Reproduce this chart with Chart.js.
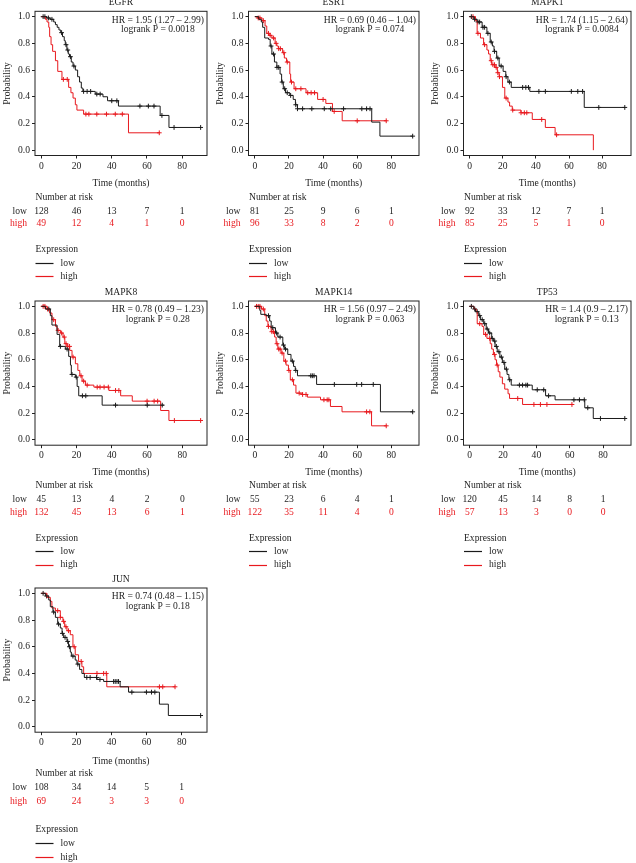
<!DOCTYPE html>
<html><head><meta charset="utf-8">
<script src="https://cdn.jsdelivr.net/npm/chart.js@4.4.1/dist/chart.umd.min.js"></script>
<style>
html,body{margin:0;padding:0;background:#fff;}
body{width:636px;height:863px;position:relative;overflow:hidden;}
canvas{position:absolute;display:block;}
</style></head><body>
<script>
// ---------------- DATA ----------------
const geneNames = ['EGFR','ESR1','MAPK1','MAPK8','MAPK14','TP53','JUN'];
const hrLabels = ['HR = 1.95 (1.27 \u2013 2.99)','HR = 0.69 (0.46 \u2013 1.04)','HR = 1.74 (1.15 \u2013 2.64)',
  'HR = 0.78 (0.49 \u2013 1.23)','HR = 1.56 (0.97 \u2013 2.49)','HR = 1.4 (0.9 \u2013 2.17)','HR = 0.74 (0.48 \u2013 1.15)'];
const pLabels = ['logrank P = 0.0018','logrank P = 0.074','logrank P = 0.0084','logrank P = 0.28',
  'logrank P = 0.063','logrank P = 0.13','logrank P = 0.18'];
const riskTimes = [0,20,40,60,80];
const yTickVals = [0,0.2,0.4,0.6,0.8,1.0];

// step curves: [time, survival after event]
const egfrLow = [[0,1],[3,0.99],[5,0.98],[7,0.96],[8,0.94],[9,0.92],[10,0.90],[11,0.88],[12,0.85],[13,0.82],[13.6,0.79],[14.5,0.75],[15.3,0.72],[16,0.70],[17,0.66],[18,0.63],[19.3,0.60],[20.6,0.55],[21.7,0.51],[22.7,0.465],[23.6,0.44],[30.6,0.42],[35,0.40],[37.6,0.37],[43.8,0.33],[67.5,0.26],[72.5,0.17],[90.5,0.17]];
const egfrLowCens = [1,2,4,6,11.5,14,15,16.5,18.5,24,26,28,31.5,33.4,40,42.9,56,60.8,64,68.5,75.4,90.5];
const egfrHigh = [[0,1],[2.3,0.98],[3.2,0.96],[4.2,0.92],[4.7,0.85],[5.5,0.79],[6.4,0.74],[8,0.67],[9.3,0.59],[11.7,0.53],[15.5,0.47],[16.8,0.43],[18,0.39],[19.3,0.34],[20.2,0.30],[24,0.27],[49.5,0.13],[67,0.13]];
const egfrHighCens = [12.5,14.7,25.3,27,31.5,37,42,46,67];
const egfrRiskLow = [128,46,13,7,1];
const egfrRiskHigh = [49,12,4,1,0];

const esr1Low = [[0,1],[2.3,0.98],[3.8,0.96],[4.6,0.92],[5.8,0.84],[8,0.83],[9,0.78],[10,0.72],[11.5,0.66],[12.9,0.62],[14.8,0.57],[15.7,0.51],[16.7,0.46],[18,0.43],[20.5,0.41],[22.5,0.38],[23.8,0.34],[25,0.31],[68.5,0.21],[73.3,0.105],[92.5,0.105]];
const esr1LowCens = [9.5,11,13,14,16,17.5,19,21,24,25,28,33.4,40.7,44.5,52,62.7,65.5,67.5,92.5];
const esr1High = [[0,1],[1.5,0.99],[4.2,0.97],[6,0.93],[7,0.875],[8.4,0.86],[10,0.84],[11.9,0.80],[12.9,0.78],[13.8,0.76],[16.3,0.73],[17.3,0.69],[18.6,0.66],[20.5,0.57],[21,0.51],[23,0.46],[30,0.43],[36.8,0.38],[41.6,0.35],[45.5,0.29],[51.2,0.22],[77,0.22]];
const esr1HighCens = [2,3,5,8,9,11,12.5,14,15,17,19,21.5,24,27,31,33,35,40,46.5,60,77];
const esr1RiskLow = [81,25,9,6,1];
const esr1RiskHigh = [96,33,8,2,0];

const mapk1Low = [[0,1],[2.5,0.98],[4.5,0.96],[7.5,0.92],[10.4,0.875],[12.4,0.81],[13.7,0.78],[14.7,0.74],[16.3,0.69],[17.8,0.63],[20.2,0.59],[21.8,0.55],[23.1,0.51],[25.1,0.47],[36.3,0.44],[69.2,0.32],[93.7,0.32]];
const mapk1LowCens = [1,3,5,6,8,9,11,13,15,17,19,22,24,32,33.9,35.5,41.8,45.7,61.4,65.3,68.2,78,93.7];
const mapk1High = [[0,1],[3.5,0.97],[4.5,0.875],[6.5,0.84],[8.4,0.79],[10.4,0.75],[11.4,0.72],[12.4,0.67],[13.3,0.64],[15.3,0.62],[16.7,0.58],[17.8,0.55],[19.8,0.47],[21.2,0.39],[23.1,0.36],[24.1,0.33],[25.7,0.30],[31,0.28],[37.8,0.23],[45.7,0.17],[51.6,0.115],[74.7,0]];
const mapk1HighCens = [2,5,9,13,14,15,16,17,18,22,26,31,33,34.5,43.5,52.5];
const mapk1RiskLow = [92,33,12,7,1];
const mapk1RiskHigh = [85,25,5,1,0];

const mapk8Low = [[0,1],[2.3,0.98],[5.1,0.93],[6,0.86],[8.9,0.79],[10.4,0.70],[13.6,0.68],[15.5,0.625],[16.5,0.56],[17,0.49],[19.3,0.47],[20.3,0.40],[21.2,0.33],[34.5,0.26],[69.6,0.26]];
const mapk8LowCens = [4.2,10.8,14.6,17.4,19.8,23.3,25.2,42.1,60.1,68.6];
const mapk8High = [[0,1],[3.2,0.98],[4.7,0.95],[6,0.90],[8,0.85],[8.9,0.82],[10.8,0.80],[12.3,0.77],[13.3,0.72],[14.6,0.70],[16.1,0.67],[17.4,0.62],[19.3,0.57],[20.7,0.52],[21.8,0.48],[23.1,0.44],[25,0.41],[29.8,0.395],[38.3,0.37],[45,0.33],[51.6,0.29],[67.7,0.22],[72.4,0.145],[90.4,0.145]];
const mapk8HighCens = [1,2,3.5,7,9.5,11.5,13,14,15,16,18,22.5,24,26,31.7,33.3,35.6,38,42.1,44,60,64,66,75.5,90.4];
const mapk8RiskLow = [45,13,4,2,0];
const mapk8RiskHigh = [132,45,13,6,1];

const mapk14Low = [[0,1],[2.9,0.97],[3.5,0.94],[6.7,0.93],[8.7,0.89],[9.6,0.84],[12.1,0.80],[13.5,0.77],[16.4,0.71],[17.3,0.68],[19.3,0.64],[21.2,0.59],[22.7,0.55],[23.7,0.52],[25,0.48],[36.2,0.415],[73.6,0.21],[92.5,0.21]];
const mapk14LowCens = [8,10.5,12.8,14.8,16.8,18,22,24,32.8,33.7,34.7,46.6,59.7,62.6,69.4,92.5];
const mapk14High = [[0,1],[3.9,0.98],[5.8,0.93],[6.7,0.89],[7.7,0.85],[9.6,0.81],[11.6,0.77],[12.5,0.72],[13.5,0.68],[15.4,0.65],[17,0.59],[18.3,0.56],[19.7,0.52],[20.8,0.45],[22.7,0.41],[24.1,0.35],[27.9,0.34],[30.8,0.32],[38.5,0.30],[44.3,0.25],[51.1,0.21],[68.4,0.105],[77,0.105]];
const mapk14HighCens = [1,2,3,5,8,10,11,13,14,14.8,16,18,20,22,26,28,30,40.5,42.4,43.4,65.5,67.4,77];
const mapk14RiskLow = [55,23,6,4,1];
const mapk14RiskHigh = [122,35,11,4,0];

const tp53Low = [[0,1],[2.5,0.98],[3.5,0.96],[5.4,0.93],[6.4,0.90],[8.4,0.87],[9.9,0.83],[11.3,0.80],[13.2,0.76],[14.2,0.74],[15.2,0.70],[16.5,0.66],[18.1,0.62],[19.6,0.58],[21,0.53],[22.4,0.49],[23.5,0.45],[24.9,0.41],[37.5,0.375],[45.5,0.33],[51.2,0.30],[69,0.24],[74.1,0.16],[93,0.16]];
const tp53LowCens = [1,3,4.5,6,7.5,9,10.5,12,13.5,15,16,17.5,19,20.5,22,24,29.8,31.7,33.7,34.7,40.5,44.4,47.3,62.5,65.8,68.7,70.8,78.4,93];
const tp53High = [[0,1],[2.5,0.98],[3.9,0.96],[4.5,0.87],[7.4,0.85],[8.4,0.79],[10.3,0.76],[12.3,0.72],[13.2,0.68],[14.2,0.64],[15.2,0.60],[16.1,0.56],[17.1,0.51],[18.1,0.47],[19.6,0.42],[21,0.38],[23,0.345],[23.9,0.31],[31.7,0.265],[61.3,0.265]];
const tp53HighCens = [6,9.5,12,14.8,16.5,28.8,38.5,42.4,46.3,61.3];
const tp53RiskLow = [120,45,14,8,1];
const tp53RiskHigh = [57,13,3,0,0];

const junLow = [[0,1],[2.3,0.98],[4.2,0.95],[5.1,0.90],[6.6,0.86],[8,0.82],[9.3,0.77],[10.8,0.74],[11.8,0.70],[12.7,0.67],[14.6,0.64],[15.5,0.60],[16.5,0.56],[17.1,0.53],[19.3,0.50],[20.3,0.47],[21.8,0.43],[23.1,0.40],[24.5,0.37],[31.7,0.355],[35.5,0.34],[44.9,0.30],[49.7,0.26],[67.3,0.17],[72.4,0.085],[90.8,0.085]];
const junLowCens = [1,3,7,9.8,12,13.5,15,16,18,20.8,25.9,27.8,31.5,33.4,41.2,42.1,43.1,44,51.6,59.9,62.8,64.7,90.8];
const junHigh = [[0,1],[3.2,0.97],[5.1,0.94],[6,0.89],[8,0.87],[10.8,0.82],[12.3,0.79],[13.3,0.75],[14.6,0.72],[16.5,0.69],[18,0.60],[19.3,0.54],[21.2,0.49],[23.1,0.45],[24.1,0.40],[37.3,0.30],[76.2,0.30]];
const junHighCens = [9.3,10.8,12.7,14,15.5,18.7,22.7,31.7,35.5,37,67.3,69.2,76.2];
const junRiskLow = [108,34,14,5,1];
const junRiskHigh = [69,24,3,3,0];

// ---------------- ASSEMBLY ----------------
const curveSets = [
  [egfrLow, egfrLowCens, egfrHigh, egfrHighCens, egfrRiskLow, egfrRiskHigh],
  [esr1Low, esr1LowCens, esr1High, esr1HighCens, esr1RiskLow, esr1RiskHigh],
  [mapk1Low, mapk1LowCens, mapk1High, mapk1HighCens, mapk1RiskLow, mapk1RiskHigh],
  [mapk8Low, mapk8LowCens, mapk8High, mapk8HighCens, mapk8RiskLow, mapk8RiskHigh],
  [mapk14Low, mapk14LowCens, mapk14High, mapk14HighCens, mapk14RiskLow, mapk14RiskHigh],
  [tp53Low, tp53LowCens, tp53High, tp53HighCens, tp53RiskLow, tp53RiskHigh],
  [junLow, junLowCens, junHigh, junHighCens, junRiskLow, junRiskHigh]
];

// layout (positions only)
const colX = [0,212,424], colBoxLeft = [35,36.5,39.5], colBoxW = [173,173,172];
const rowY = [0,280,567], rowH = [290,297,296], rowBoxTop = [11.3,21,21];
const BOX_H = 144.2;
const rowTextOff = [
  [27.5,41.5,55.5,68,93.5,107.5,120.5],
  [27,40.5,54,67,93,106,119.5],
  [29,41.5,55.5,69,97,111,125]
];
const FONT = '9.6px "Liberation Serif", "DejaVu Serif", serif';
const TXT = '#1e1e1e';
const RED = '#e8191e';
const BLACK = '#1a1a1a';

function survAt(steps, t){
  let s = steps[0][1];
  for (const [tt, ss] of steps){ if (tt <= t) s = ss; else break; }
  return s;
}

const textPlugin = {
  id: 'kmText',
  afterDraw(chart, args, o){
    const ctx = chart.ctx, a = chart.chartArea, x = chart.scales.x;
    const off = o.off;
    ctx.save();
    ctx.strokeStyle = '#222'; ctx.lineWidth = 1;
    ctx.strokeRect(a.left, a.top, a.right - a.left, a.bottom - a.top);
    ctx.font = FONT; ctx.textBaseline = 'middle'; ctx.fillStyle = TXT;
    const cx = (a.left + a.right) / 2;
    ctx.textAlign = 'center';
    ctx.fillText(o.name, cx, a.top - 9);
    const w = ctx.measureText(o.hr).width;
    const hx = a.right - 3 - w / 2;
    ctx.fillText(o.hr, hx, a.top + 8.8);
    ctx.fillText(o.p, hx, a.top + 18);
    ctx.fillText('Time (months)', cx, a.bottom + off[0]);
    ctx.save();
    ctx.translate(a.left - 28, (a.top + a.bottom) / 2);
    ctx.rotate(-Math.PI / 2);
    ctx.fillText('Probability', 0, 0);
    ctx.restore();
    ctx.textAlign = 'left';
    ctx.fillText('Number at risk', a.left + 0.5, a.bottom + off[1]);
    ctx.textAlign = 'right';
    ctx.fillText('low', a.left - 8, a.bottom + off[2]);
    ctx.fillStyle = RED;
    ctx.fillText('high', a.left - 8, a.bottom + off[3]);
    ctx.textAlign = 'center';
    riskTimes.forEach((t, i) => {
      const px = x.getPixelForValue(t);
      ctx.fillStyle = TXT; ctx.fillText(String(o.riskLow[i]), px, a.bottom + off[2]);
      ctx.fillStyle = RED; ctx.fillText(String(o.riskHigh[i]), px, a.bottom + off[3]);
    });
    ctx.textAlign = 'left'; ctx.fillStyle = TXT;
    ctx.fillText('Expression', a.left + 0.5, a.bottom + off[4]);
    ctx.fillText('low', a.left + 25.5, a.bottom + off[5]);
    ctx.fillText('high', a.left + 25.5, a.bottom + off[6]);
    ctx.lineWidth = 1.2;
    const y5 = Math.round(a.bottom + off[5]) + 0.5, y6 = Math.round(a.bottom + off[6]) + 0.5;
    ctx.strokeStyle = BLACK; ctx.beginPath();
    ctx.moveTo(a.left + 0.5, y5); ctx.lineTo(a.left + 18.5, y5); ctx.stroke();
    ctx.strokeStyle = RED; ctx.beginPath();
    ctx.moveTo(a.left + 0.5, y6); ctx.lineTo(a.left + 18.5, y6); ctx.stroke();
    ctx.restore();
  }
};

geneNames.forEach((name, i) => {
  const col = i % 3, row = Math.floor(i / 3);
  const [low, lowC, high, highC, rLow, rHigh] = curveSets[i];
  const cw = 212, ch = rowH[row];
  const boxLeft = colBoxLeft[col], boxW = colBoxW[col], boxTop = rowBoxTop[row];
  const cv = document.createElement('canvas');
  cv.width = cw; cv.height = ch;
  cv.style.left = colX[col] + 'px'; cv.style.top = rowY[row] + 'px';
  cv.style.width = cw + 'px'; cv.style.height = ch + 'px';
  document.body.appendChild(cv);
  const maxT = Math.max(low[low.length - 1][0], high[high.length - 1][0]);
  const tickFont = { family: '"Liberation Serif", serif', size: 9.6 };
  new Chart(cv, {
    type: 'line',
    data: {
      datasets: [
        { data: low.map(([t, s]) => ({ x: t, y: s })), borderColor: BLACK, borderWidth: 1, stepped: true, pointRadius: 0, fill: false },
        { data: high.map(([t, s]) => ({ x: t, y: s })), borderColor: RED, borderWidth: 1, stepped: true, pointRadius: 0, fill: false },
        { data: lowC.map(t => ({ x: t, y: survAt(low, t) })), showLine: false, pointStyle: 'cross', pointRadius: 2.4, borderColor: BLACK, borderWidth: 1 },
        { data: highC.map(t => ({ x: t, y: survAt(high, t) })), showLine: false, pointStyle: 'cross', pointRadius: 2.4, borderColor: RED, borderWidth: 1 }
      ]
    },
    options: {
      responsive: false, animation: false, devicePixelRatio: 1,
      layout: { padding: { left: 0, top: boxTop, right: cw - boxLeft - boxW, bottom: 0 } },
      plugins: {
        legend: { display: false }, tooltip: { enabled: false }, title: { display: false },
        kmText: { name, hr: hrLabels[i], p: pLabels[i], riskLow: rLow, riskHigh: rHigh, off: rowTextOff[row] }
      },
      scales: {
        x: {
          type: 'linear', min: -0.04 * maxT, max: 1.04 * maxT,
          afterBuildTicks: s => { s.ticks = riskTimes.map(v => ({ value: v })); },
          afterFit: s => { s.height = ch - boxTop - BOX_H; },
          ticks: { font: tickFont, color: TXT, padding: 2, maxRotation: 0, autoSkip: false, callback: v => String(v) },
          grid: { display: true, drawOnChartArea: false, drawTicks: true, tickLength: 3, color: '#222' },
          border: { display: false }
        },
        y: {
          type: 'linear', min: -0.04, max: 1.04,
          afterBuildTicks: s => { s.ticks = yTickVals.map(v => ({ value: v })); },
          afterFit: s => { s.width = boxLeft; },
          ticks: { font: tickFont, color: TXT, padding: 2, autoSkip: false, callback: v => Number(v).toFixed(1) },
          grid: { display: true, drawOnChartArea: false, drawTicks: true, tickLength: 3, color: '#222' },
          border: { display: false }
        }
      }
    },
    plugins: [textPlugin]
  });
});
</script>
</body></html>
